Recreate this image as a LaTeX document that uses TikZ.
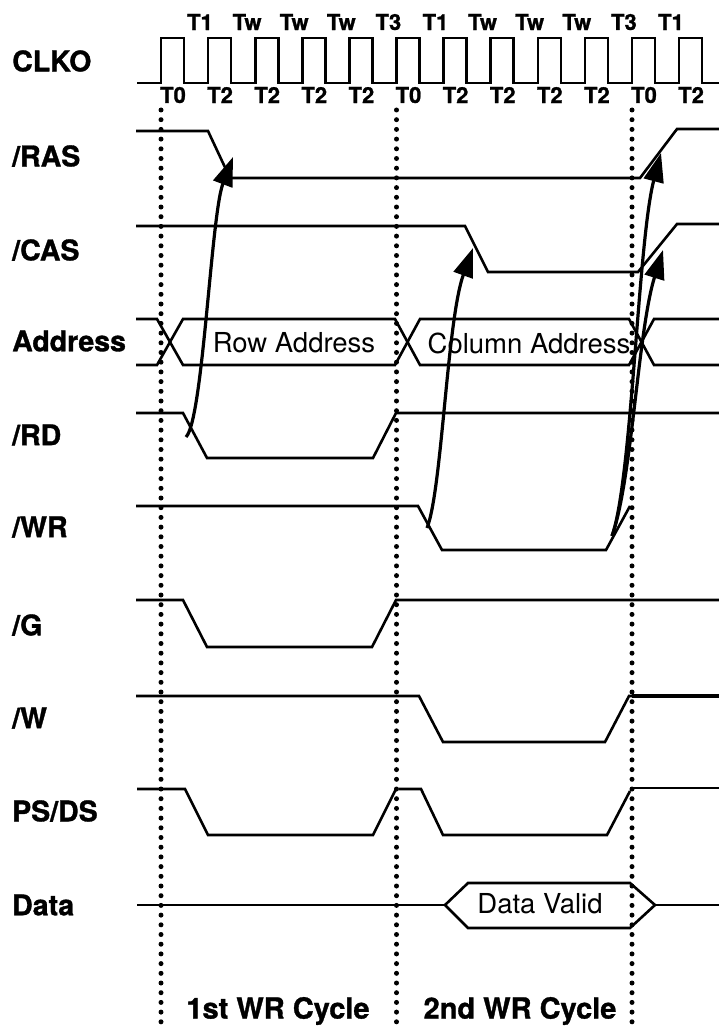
\documentclass[tikz,border=0pt]{standalone}
\usepackage{fontspec}
\setmainfont{TeX Gyre Heros}
\newfontfamily\heavyfont[FakeBold=1.1]{TeX Gyre Heros}
\usetikzlibrary{arrows.meta}
\begin{document}
\begin{tikzpicture}[x=1pt,y=-1pt,
  sig/.style={line width=2.6pt, line join=miter},
  dotline/.style={line width=5pt, line cap=round, dash pattern=on 0pt off 9.7pt},
  curvearrow/.style={line width=3.2pt, -{Triangle[length=29pt,width=20pt]}},
  siglabel/.style={anchor=west, font=\heavyfont\bfseries\fontsize{28.5}{28.5}\selectfont, inner sep=0pt},
  tlabel/.style={font=\heavyfont\bfseries\fontsize{22}{22}\selectfont, inner sep=0pt},
  buslabel/.style={font=\fontsize{27.5}{27.5}\selectfont, inner sep=0pt},
  cyclabel/.style={font=\heavyfont\bfseries\fontsize{29}{29}\selectfont, inner sep=0pt}]
\useasboundingbox (0,0) rectangle (719,1030);

% signal names
\node[siglabel] (lclko) at (12,61) {CLKO};
\node[siglabel] (lras) at (12,156) {/RAS};
\node[siglabel] (lcas) at (12,250) {/CAS};
\node[siglabel] (laddr) at (12,341) {Address};
\node[siglabel] (lrd) at (12,435) {/RD};
\node[siglabel] (lwr) at (12,527) {/WR};
\node[siglabel] (lg) at (12,625) {/G};
\node[siglabel] (lw) at (12,718) {/W};
\node[siglabel] (lps) at (12,811) {PS/DS};
\node[siglabel] (ldata) at (12,905) {Data};

% clock
\draw[sig] (137,83) foreach \k in {0,...,11} { -- ({161+47.1*\k},83) -- ({161+47.1*\k},38) -- ({184+47.1*\k},38) -- ({184+47.1*\k},83) } -- (719,83);
\foreach \t [count=\k from 0] in {T1,Tw,Tw,Tw,T3,T1,Tw,Tw,Tw,T3,T1}
  \node[tlabel] (tt\k) at ({200+47.1*\k},22) {\t};
\foreach \t [count=\k from 0] in {T0,T2,T2,T2,T2,T0,T2,T2,T2,T2,T0,T2}
  \node[tlabel] (tb\k) at ({173+47.1*\k},95) {\t};

% dotted cycle boundaries
\foreach \x in {161,396.5,632}
  \draw[dotline] (\x,110) -- (\x,1024);

% /RAS
\draw[sig] (136,131) -- (208,131) -- (230,178) -- (640,178) -- (677,129) -- (719,129);
% /CAS
\draw[sig] (136,226) -- (465,226) -- (488,272) -- (638,272) -- (677,224) -- (719,224);
% Address
\draw[sig] (136,319) -- (157,319) -- (183,365) -- (395,365) -- (420,319) -- (629,319) -- (654,365) -- (719,365);
\draw[sig] (136,365) -- (157,365) -- (183,319) -- (395,319) -- (420,365) -- (629,365) -- (654,319) -- (719,319);
\node[buslabel] (rowaddr) at (294,343) {Row Address};
\node[buslabel] (coladdr) at (529,343) {Column Address};
% /RD
\draw[sig] (136,413) -- (183,413) -- (207,458) -- (373,458) -- (396,413) -- (719,413);
% /WR
\draw[sig] (136,506) -- (418,506) -- (442,550) -- (606,550) -- (630,506);
% /G
\draw[sig] (136,600) -- (183,600) -- (207,647) -- (372,647) -- (396,600) -- (719,600);
% /W
\draw[sig] (136,696) -- (419,696) -- (443,742) -- (605,742) -- (629,696) -- (719,696);
\draw[line width=3.4pt] (632,696) -- (719,696);
% PS/DS
\draw[sig] (137,789) -- (185,789) -- (208,835) -- (373,835) -- (396,789);
\draw[sig] (399,789) -- (421,789) -- (443,835) -- (607,835) -- (630,791);
\draw[sig] (633,788) -- (719,788);
% Data
\draw[sig] (137,905) -- (445,905);
\draw[sig] (445,905) -- (468,883) -- (630,883) -- (655,905) -- (630,928) -- (468,928) -- cycle;
\draw[sig] (655,905) -- (719,905);
\node[buslabel] (dvalid) at (540,904) {Data Valid};

% cycle labels
\node[cyclabel] (cyc1) at (278,1011) {1st WR Cycle};
\node[cyclabel] (cyc2) at (520,1011) {2nd WR Cycle};

% causal arrows
\coordinate (rdfall) at (186,437);
\coordinate (rasfall) at (233,157);
\coordinate (wrfall) at (427,528);
\coordinate (casfall) at (473,248);
\coordinate (wrrise) at (612,536);
\coordinate (rasrise) at (661,153);
\coordinate (casrise) at (663,250);
\draw[curvearrow] (rdfall) .. controls (203,420) and (211,215) .. (rasfall);
\draw[curvearrow] (wrfall) .. controls (442,490) and (447,320) .. (casfall);
\draw[curvearrow] (wrrise) .. controls (632,480) and (638,240) .. (rasrise);
\draw[curvearrow] (wrrise) .. controls (632,480) and (638,330) .. (casrise);
\end{tikzpicture}
\end{document}
